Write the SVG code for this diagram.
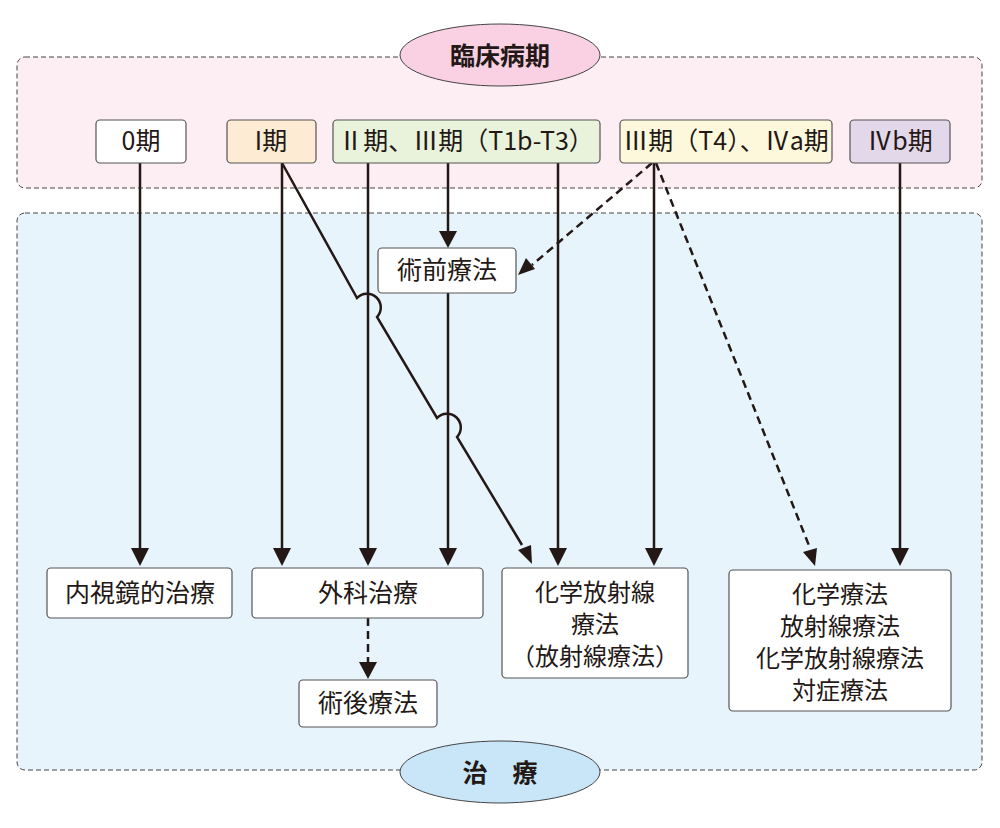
<svg xmlns="http://www.w3.org/2000/svg" width="1000" height="828" viewBox="0 0 1000 828">
<style>
text{font-family:"Noto Sans CJK JP","Noto Sans",sans-serif;font-size:25px;fill:#231815;text-anchor:middle}
.m{font-size:24px}
.b{stroke:#555;stroke-width:1.2}
.l{stroke:#231815;stroke-width:2.5;fill:none}
.d{stroke-dasharray:8,5}
</style>
<g id="panels">
<rect x="17" y="57" width="965" height="131" rx="8" fill="#fdeef4" stroke="#444" stroke-dasharray="5,3"/>
<rect x="17" y="213" width="965" height="557" rx="8" fill="#e8f4fc" stroke="#444" stroke-dasharray="5,3"/>
</g>
<g id="connectors">
<path class="l" d="M140,163V548"/>
<path class="l" d="M282,163V548"/>
<path class="l" d="M368,163V548"/>
<path class="l" d="M448,163V232"/>
<path class="l" d="M448,293V548"/>
<path class="l" d="M558,163V548"/>
<path class="l" d="M654,163V548"/>
<path class="l" d="M900,163V548"/>
<path class="l" d="M282,163L357,298A13,13 0 0 1 377,317L437,418A13,13 0 0 1 457,437L522,545"/>
<path class="l d" d="M652,163L532,265"/>
<path class="l d" d="M656,163L810,548"/>
<path class="l d" d="M368,618V662"/>
</g>
<g id="heads" fill="#231815">
<path d="M131,548h18l-9,18z"/><path d="M273,548h18l-9,18z"/><path d="M359,548h18l-9,18z"/>
<path d="M439,548h18l-9,18z"/><path d="M549,548h18l-9,18z"/><path d="M645,548h18l-9,18z"/>
<path d="M891,548h18l-9,18z"/><path d="M439,231h18l-9,17z"/><path d="M359,662h18l-9,17z"/>
<path d="M518,275l8,-17l9,11z"/><path d="M532,564l-14,-14l13,-5z"/><path d="M815,566l-12,-14l14,-4z"/>
</g>
<g id="title"><ellipse cx="500" cy="55" rx="100" ry="31" fill="#f9d1e3" stroke="#444"/><text x="500" y="65" font-size="29" font-weight="bold">臨床病期</text></g>
<g id="treat"><ellipse cx="500" cy="772" rx="100" ry="31" fill="#c8e6f8" stroke="#444"/><text x="500" y="782" font-size="29" font-weight="bold">治　療</text></g>
<g id="s0"><rect class="b" x="96" y="120" width="90" height="43" rx="4" fill="#fff"/><text x="141" y="150">0期</text></g>
<g id="s1"><rect class="b" x="227" y="120" width="89" height="43" rx="4" fill="#fdebd3"/><text x="271" y="150">I期</text></g>
<g id="s2"><rect class="b" x="333" y="120" width="267" height="43" rx="4" fill="#e9f3dc"/><text x="466" y="150">Ⅱ期、Ⅲ期（T1b-T3）</text></g>
<g id="s3"><rect class="b" x="620" y="120" width="212" height="43" rx="4" fill="#fdf8dc"/><text x="726" y="150">Ⅲ期（T4）、Ⅳa期</text></g>
<g id="s4"><rect class="b" x="850" y="120" width="100" height="43" rx="4" fill="#e3d7ea"/><text x="900" y="150">Ⅳb期</text></g>
<g id="pre"><rect class="b" x="378" y="248" width="138" height="45" rx="4" fill="#fff"/><text x="447" y="279">術前療法</text></g>
<g id="endo"><rect class="b" x="47" y="568" width="185" height="50" rx="4" fill="#fff"/><text x="140" y="602">内視鏡的治療</text></g>
<g id="surg"><rect class="b" x="252" y="568" width="231" height="50" rx="4" fill="#fff"/><text x="368" y="602">外科治療</text></g>
<g id="crt"><rect class="b" x="502" y="568" width="186" height="110" rx="4" fill="#fff"/><text class="m" x="595" y="601">化学放射線</text><text class="m" x="595" y="633">療法</text><text class="m" x="595" y="665">（放射線療法）</text></g>
<g id="chemo"><rect class="b" x="729" y="570" width="222" height="141" rx="4" fill="#fff"/><text class="m" x="840" y="603">化学療法</text><text class="m" x="840" y="635">放射線療法</text><text class="m" x="840" y="667">化学放射線療法</text><text class="m" x="840" y="699">対症療法</text></g>
<g id="post"><rect class="b" x="299" y="680" width="138" height="47" rx="4" fill="#fff"/><text x="368" y="712">術後療法</text></g>
</svg>
